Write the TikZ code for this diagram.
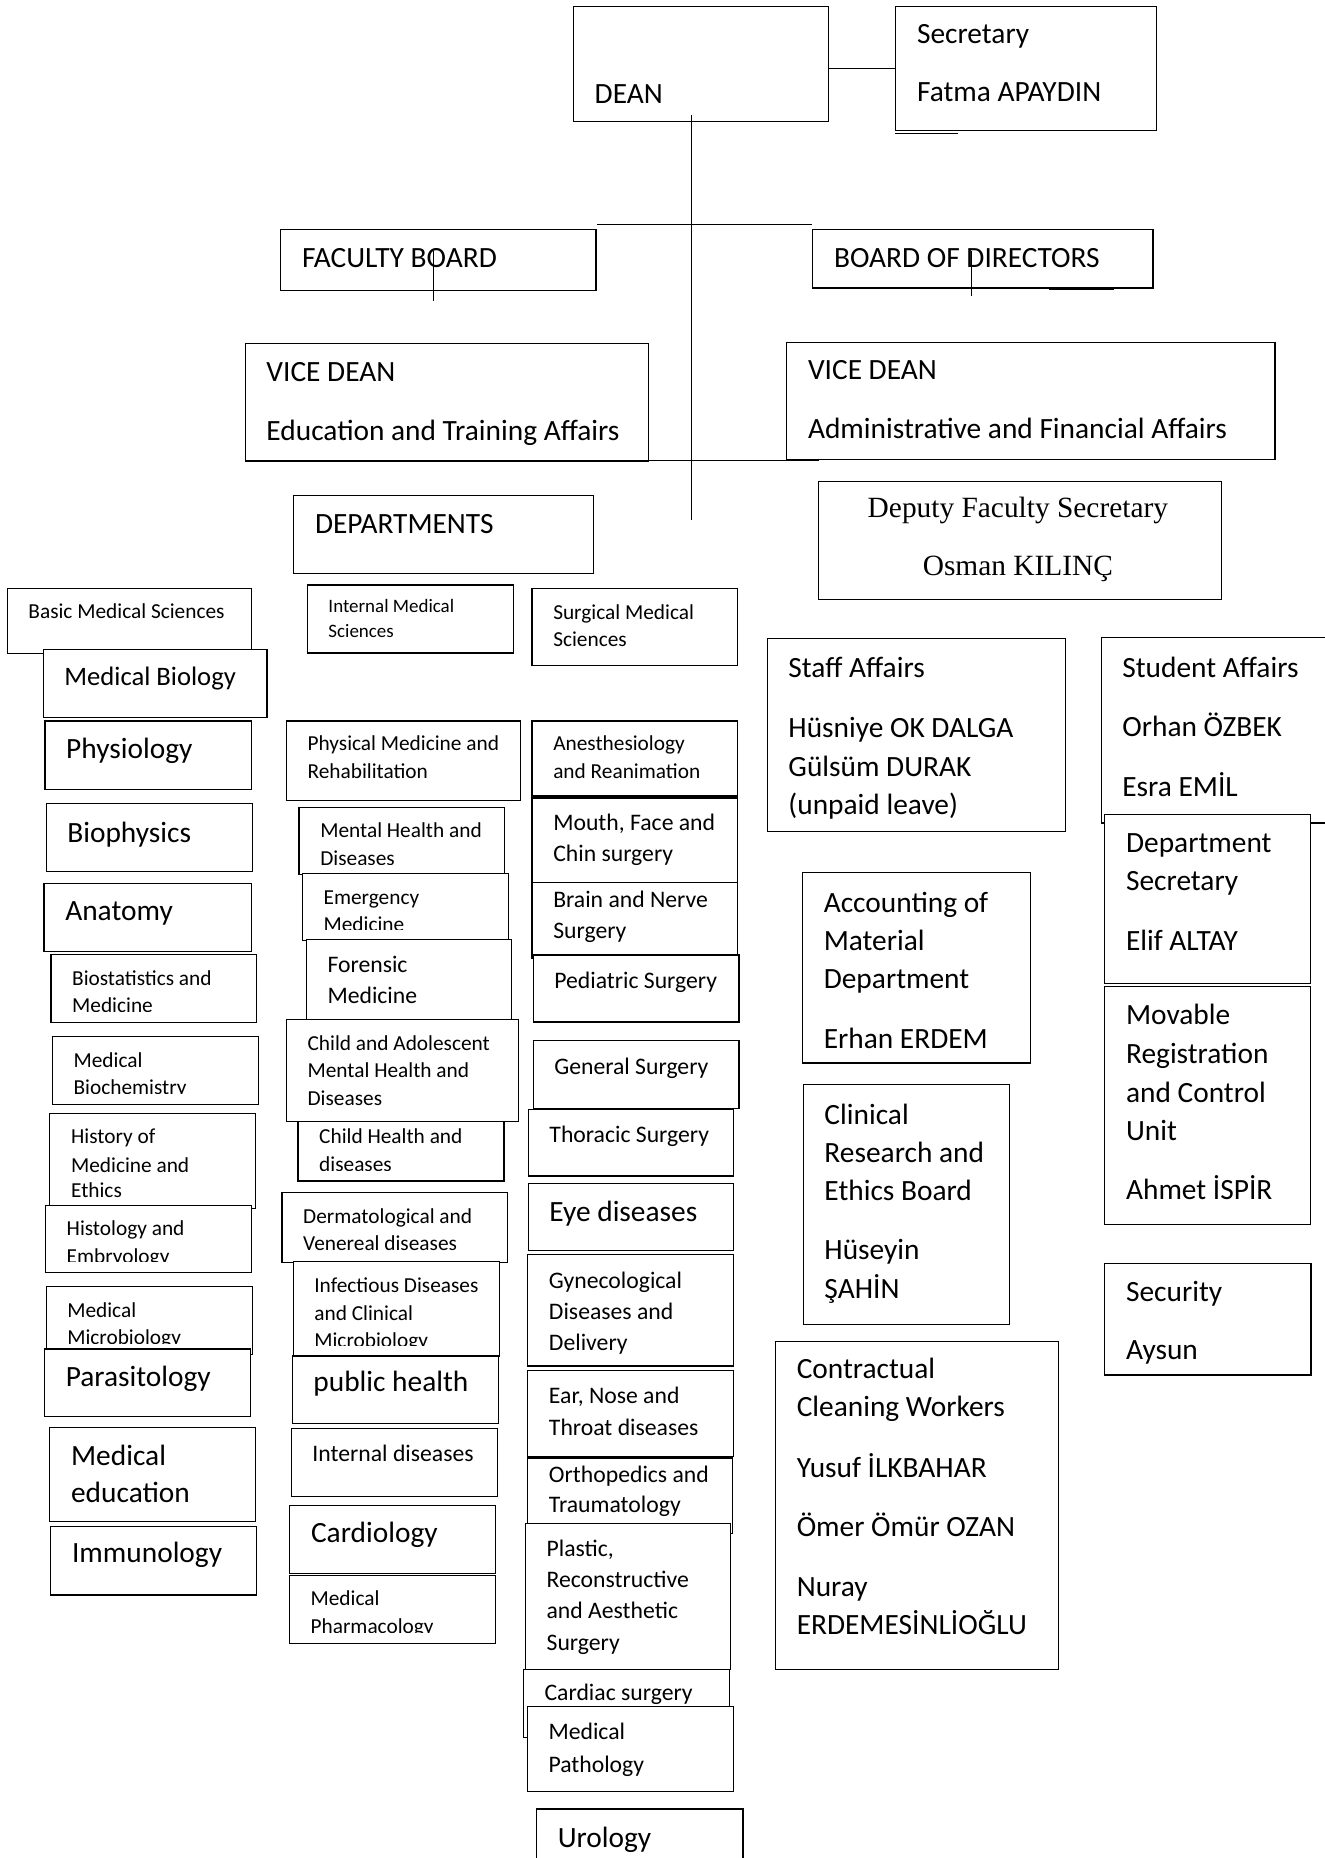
\documentclass[tikz,border=0pt]{standalone}
\usepackage{fontspec}
\setmainfont{Carlito}
\newfontfamily\timesface{Liberation Serif}
\usetikzlibrary{
  calc,
  fit}

\newcommand\unitbox[7]{%
  \coordinate (#1-nw) at (#2,#3);
  \coordinate (#1-se) at (#4,#5);
  \node[unit, fit=(#1-nw)(#1-se)] (#1) {};
  \begin{scope}
    \clip ($(#1.north west)+(1,0)$) rectangle ($(#1.south east)+(-1,-9.5)$);
    \foreach \by/\txt [count=\k] in {#7}
      \node[#6, anchor=base west] (#1-\k) at (#2+17.5,\by) {\txt};
  \end{scope}}

\begin{document}
\begin{tikzpicture}[
  x=0.5pt, y=-0.5pt,
  unit/.style={draw, fill=white, line width=0.5pt, inner sep=0pt},
  link/.style={line width=0.45pt},
  twelve/.style={font=\fontsize{12.4}{14}\selectfont, inner sep=0pt},
  eleven/.style={font=\fontsize{11.25}{13}\selectfont, inner sep=0pt},
  ten/.style={font=\fontsize{10}{12}\selectfont, inner sep=0pt},
  nine/.style={font=\fontsize{9}{11}\selectfont, inner sep=0pt},
  eight/.style={font=\fontsize{8}{10}\selectfont, inner sep=0pt},
  serif/.style={font=\timesface\fontsize{12.4}{14}\selectfont, inner sep=0pt},
]
\useasboundingbox (0,0) rectangle (1118,1568);

% top of the chart
\unitbox{dean}{484}{5.7}{699}{102.7}{twelve}{87/DEAN}
\unitbox{secretary}{756}{5.7}{976}{110}{twelve}{37/Secretary, 86/Fatma APAYDIN}
\unitbox{faculty}{237}{194}{503}{245}{twelve}{226/FACULTY BOARD}
\unitbox{directors}{686}{194}{973}{243}{twelve}{226/BOARD OF DIRECTORS}
\unitbox{vice-edu}{207}{290}{547}{389}{twelve}{322/VICE DEAN, 372/Education and Training Affairs}
\unitbox{vice-adm}{664}{289}{1076}{388}{twelve}{320/VICE DEAN, 370/Administrative and Financial Affairs}
\unitbox{departments}{248}{418}{501}{484}{twelve}{450/DEPARTMENTS}
\coordinate (deputy-nw) at (691,406);
\coordinate (deputy-se) at (1031,506);
\node[unit, fit=(deputy-nw)(deputy-se)] (deputy) {};
\node[serif, anchor=base] (deputy-1) at (859,437) {Deputy Faculty Secretary};
\node[serif, anchor=base] (deputy-2) at (859,486) {Osman KILINÇ};

% basic medical sciences
\unitbox{basic}{6.1}{496.5}{212.3}{551.4}{nine}{521.7/Basic Medical Sciences}
\unitbox{medbio}{36.4}{548}{225.4}{605.3}{eleven}{578.7/Medical Biology}
\unitbox{physio}{38}{608.5}{212.3}{666}{twelve}{640/Physiology}
\unitbox{biophys}{38.9}{678.4}{213}{735.8}{twelve}{710.6/Biophysics}
\unitbox{anatomy}{37.2}{745.3}{211.9}{802.7}{twelve}{777/Anatomy}
\unitbox{biostat}{43}{805.5}{216.8}{862.8}{nine}{831.7/Biostatistics and, 854.5/Medicine}
\unitbox{biochem}{44.2}{874.4}{218}{931.8}{nine}{900.6/Medical, 924/Biochemistry}
\unitbox{history}{42.1}{939.5}{215.5}{1019.6}{nine}{964.7/History of, 989.2/Medicine and, 1010.5/Ethics}
\unitbox{histology}{38.4}{1017}{212.3}{1073.9}{nine}{1042.5/Histology and, 1066/Embryology}
\unitbox{microbio}{38.9}{1085.9}{213.1}{1143.2}{nine}{1111.8/Medical, 1135/Microbiology}
\unitbox{parasito}{37.6}{1138.4}{211.5}{1195.7}{twelve}{1170.2/Parasitology}
\unitbox{mededu}{42.1}{1204.9}{215.5}{1284}{twelve}{1236.6/Medical, 1267.6/education}
\unitbox{immuno}{42.9}{1288.4}{216.8}{1346}{twelve}{1318.7/Immunology}

% internal medical sciences
\unitbox{internal}{259.3}{493.7}{433.1}{551}{eight}{516.8/Internal Medical, 537.8/Sciences}
\unitbox{physmed}{241.7}{608.4}{439.3}{675.6}{nine}{633.6/Physical Medicine and, 656.7/Rehabilitation}
\unitbox{mental}{252.4}{681.2}{425.8}{738.2}{nine}{706.4/Mental Health and, 730/Diseases}
\unitbox{emergency}{255.2}{737.1}{429}{793.5}{nine}{763/Emergency, 786/Medicine}
\unitbox{forensic}{258.5}{793.1}{431.9}{860.3}{ten}{821/Forensic, 847/Medicine}
\unitbox{adolescent}{241.7}{860.3}{437.6}{946.7}{nine}{886.5/Child and Adolescent, 909.2/Mental Health and, 933/Diseases}
\unitbox{childhealth}{251.5}{946.7}{425.4}{996.7}{nine}{965.2/Child Health and, 988.6/diseases}
\unitbox{dermato}{238}{1006.6}{428.4}{1065.1}{nine}{1032.3/Dermatological and, 1055.3/Venereal diseases}
\unitbox{infectious}{247.4}{1064.4}{421.3}{1144.3}{nine}{1090.7/Infectious Diseases, 1114.4/and Clinical, 1137.5/Microbiology}
\unitbox{publichealth}{246.6}{1144.3}{420.4}{1201.6}{twelve}{1174.6/public health}
\unitbox{intdiseases}{245.8}{1205.6}{419.6}{1262.9}{ten}{1233.7/Internal diseases}
\unitbox{cardiology}{244.6}{1270.5}{418.4}{1327.8}{twelve}{1301.5/Cardiology}
\unitbox{pharma}{244.2}{1329.3}{418}{1386.9}{nine}{1355.2/Medical, 1378.5/Pharmacology}

% surgical medical sciences
\unitbox{surgical}{449}{496.5}{622.5}{561.9}{nine}{522.7/Surgical Medical, 545.5/Sciences}
\unitbox{anesth}{449}{608.4}{622.5}{671.7}{nine}{633.6/Anesthesiology, 656.7/and Reanimation}
\unitbox{mouth}{449}{673.5}{622.5}{744.8}{ten}{701.1/{Mouth, Face and}, 727.3/Chin surgery}
\unitbox{brain}{449}{744.8}{622.5}{808.5}{ten}{765.8/Brain and Nerve, 792/Surgery}
\unitbox{pediatric}{449.9}{806}{623.7}{862.4}{ten}{834/Pediatric Surgery}
\unitbox{general}{449.9}{878.4}{623.7}{935.8}{ten}{906.4/General Surgery}
\unitbox{thoracic}{445.8}{936.5}{619.2}{992.5}{ten}{964.2/Thoracic Surgery}
\unitbox{eye}{445.8}{998.7}{619.2}{1055.3}{twelve}{1030.5/Eye diseases}
\unitbox{gyneco}{445.4}{1058.6}{618.8}{1152.7}{ten}{1087/Gynecological, 1113.3/Diseases and, 1139.9/Delivery}
\unitbox{ent}{445.4}{1156.7}{618.8}{1229.3}{ten}{1184.8/{Ear, Nose and}, 1211.1/Throat diseases}
\unitbox{ortho}{445.4}{1230.4}{618.4}{1293.9}{ten}{1251.2/Orthopedics and, 1276.7/Traumatology}
\unitbox{plastic}{443.4}{1285.8}{616.8}{1409.1}{ten}{1313.2/{Plastic,}, 1339.8/Reconstructive, 1366.1/and Aesthetic, 1392.7/Surgery}
\unitbox{cardiac}{441.7}{1409.1}{615.5}{1466.4}{ten}{1435.4/Cardiac surgery}
\unitbox{pathology}{445}{1440.2}{619.2}{1512}{ten}{1468.3/Medical, 1495.6/Pathology}
\unitbox{urology}{452.8}{1526.6}{627}{1580}{twelve}{1559.5/Urology}

% administrative units
\unitbox{staff}{647.5}{539}{899.2}{701.4}{twelve}{571.4/Staff Affairs, 622.3/Hüsniye OK DALGA, 655.1/Gülsüm DURAK, 687.1/(unpaid leave)}
\unitbox{accounting}{677.3}{736.5}{869.4}{897}{twelve}{770/Accounting of, 802/Material, 834/Department, 884.9/Erhan ERDEM}
\unitbox{clinical}{677.9}{915}{851.8}{1118}{twelve}{949/Clinical, 981/Research and, 1013/Ethics Board, 1063.3/Hüseyin, 1095.7/ŞAHİN}
\unitbox{contract}{654.5}{1132}{893.2}{1409}{twelve}{1163.2/Contractual, 1195.6/Cleaning Workers, 1246.8/Yusuf İLKBAHAR, 1296.9/Ömer Ömür OZAN, 1347.5/Nuray, 1379.7/ERDEMESİNLİOĞLU}
\unitbox{student}{929.3}{538.3}{1130}{694.6}{twelve}{571.4/Student Affairs, 621.9/Orhan ÖZBEK, 672/Esra EMİL}
\unitbox{deptsec}{932.4}{687.1}{1106}{830.3}{twelve}{719.1/Department, 751.9/Secretary, 802/Elif ALTAY}
\unitbox{movable}{932.4}{832.2}{1106}{1033.7}{twelve}{864.2/Movable, 897.4/Registration, 930.1/and Control, 962.6/Unit, 1012.3/Ahmet İSPİR}
\unitbox{security}{932.4}{1066}{1106.4}{1160.3}{twelve}{1098.5/Security, 1147.7/Aysun}

% connectors
\coordinate (trunk) at (583.5,97);
\coordinate (trunk-end) at (583.5,439);
\coordinate (boards) at (504,189.3);
\coordinate (vices) at (502,389);
\coordinate (faculty-tick) at (366,212);
\coordinate (directors-tick) at (820,212);
\draw[link] (trunk) -- (trunk-end);
\draw[link] ([yshift=-2pt]dean.east) -- ([yshift=-2pt]dean.east -| secretary.west);
\draw[link] (boards) -- (boards -| directors.west);
\draw[link] (vices) -- (691,389);
\draw[link] (faculty-tick) -- ++(0,42);
\draw[link] (directors-tick) -- ++(0,38);
\draw[link] ([yshift=-1pt]secretary.south west) -- ++(53,0);
\draw[link] ([xshift=-44pt,yshift=-0.6pt]directors.south east) -- ++(55,0);
\end{tikzpicture}
\end{document}
